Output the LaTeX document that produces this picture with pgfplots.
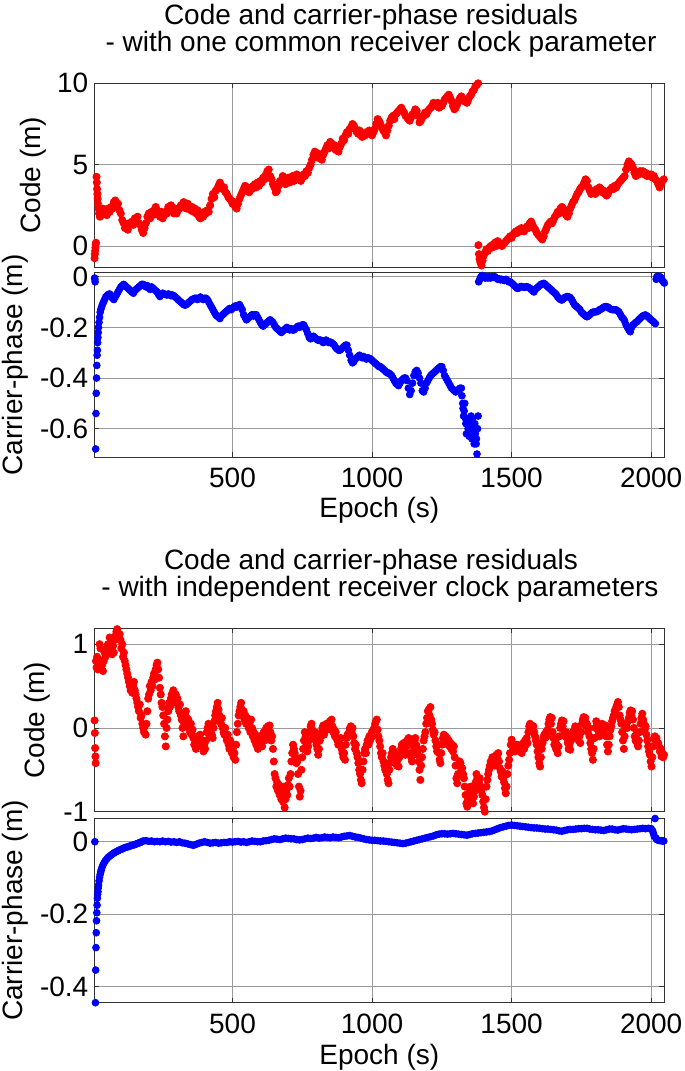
\documentclass[border=0pt]{standalone}
\usepackage{pgfplots}
\pgfplotsset{compat=1.18}
\usepackage{fontspec}
\setmainfont{Liberation Sans}
\pgfplotsset{
 myax/.style={scale only axis, width=285pt, anchor=north west, xmin=5, xmax=2047,
  xtick={500,1000,1500,2000}, grid=major,
  major grid style={black!40, line width=0.4pt},
  axis line style={black!80, line width=0.55pt},
  tick align=inside, major tick length=2.5pt, tick style={black!80, line width=0.4pt},
  clip mode=individual,
  yticklabel style={inner sep=0pt, xshift=-2.8pt},
  xticklabel style={inner sep=0pt, yshift=-5.3pt}},
 reddots/.style={only marks, mark=*, mark size=1.8pt, mark options={draw=none, fill=red}, color=red},
 bluedots/.style={only marks, mark=*, mark size=1.7pt, mark options={draw=none, fill=blue}, color=blue}
}
\tikzset{ttl/.style={anchor=base, inner sep=0pt, text height=9.5pt, text depth=2pt}}
\begin{document}
\fontsize{14pt}{16.5pt}\selectfont
\begin{tikzpicture}
\path[use as bounding box] (0,0) rectangle (342.5pt,-535.5pt);
% ---------- Top: code ----------
\begin{axis}[myax, at={(47.15pt,-41.65pt)}, height=92pt, ymin=-1.31, ymax=10,
 ytick={0,5,10}, yticklabels={0,5,10}, xticklabels={}]
\addplot[reddots] coordinates {
(6,-0.75) (7,-0.5) (8,-0.3) (9,-0.1) (10,0.1) (11,0.2)
(13,4.25) (14,3.9) (15,3.5) (16,3.2) (17,2.9) (18,2.6) (20,2.3) (22,2.0) (25,1.8) (28,2.1) (32,1.9) (36,2.3) (40,2.0) (45,2.2) (50,1.9) (55,2.3) (60,2.1) (65,2.4) (70,2.3) (75,2.7) (80,2.8) (85,2.5) (90,2.6) (95,2.2) (100,2.0) (105,1.6) (110,1.4) (115,1.1) (120,1.3) (125,1.0) (130,1.4) (135,1.3) (140,1.5) (145,1.3) (150,1.7) (155,1.6) (160,1.8) (165,1.4) (170,1.3) (175,1.0) (180,0.8) (185,1.1) (190,1.4) (195,1.8) (200,2.0) (205,1.7) (210,2.1) (215,1.9) (220,2.2) (225,2.4) (230,2.2) (235,2.0) (240,1.8) (245,2.1) (250,1.7) (255,1.9) (260,2.1) (265,2.0) (270,2.4) (275,2.3) (280,2.5) (285,2.2) (290,2.0) (295,2.3) (300,2.0) (305,2.2) (310,2.3) (315,2.5) (320,2.4) (325,2.7) (330,2.5) (335,2.3) (340,2.6) (345,2.3) (350,2.2) (355,2.4) (360,2.1) (365,2.3) (370,2.0) (375,2.2) (380,1.8) (385,1.7) (390,2.0) (395,1.8) (400,2.1) (405,2.0) (410,2.2) (415,2.1) (420,2.5) (425,2.9) (430,3.2) (435,3.0) (440,3.4) (445,3.5) (450,3.7) (455,3.9) (460,3.7) (465,3.5) (470,3.6) (475,3.3) (480,3.2) (485,3.0) (490,2.9) (495,2.8) (500,2.6) (505,2.7) (510,2.4) (515,2.3) (520,2.6) (525,2.9) (530,3.1) (535,3.3) (540,3.5) (545,3.7) (550,3.4) (555,3.6) (560,3.3) (565,3.6) (570,3.5) (575,3.7) (580,3.8) (585,3.6) (590,3.9) (595,3.7) (600,4.0) (605,3.9) (610,4.2) (615,4.1) (620,4.4) (625,4.6) (630,4.7) (635,4.3) (640,4.1) (645,3.8) (650,3.6) (655,3.3) (660,3.4) (665,3.7) (670,4.0) (675,3.9) (680,4.3) (685,4.1) (690,3.8) (695,4.0) (700,4.2) (705,3.9) (710,4.1) (715,4.3) (720,4.0) (725,4.2) (730,4.4) (735,4.1) (740,4.3) (745,4.0) (750,4.2) (755,4.4) (760,4.3) (765,4.6) (770,4.5) (775,4.8) (780,5.0) (785,5.3) (790,5.6) (795,5.8) (800,5.6) (805,5.7) (810,5.4) (815,5.6) (820,5.3) (825,5.6) (830,5.8) (835,6.0) (840,6.2) (845,6.0) (850,6.4) (855,6.3) (860,6.1) (865,6.2) (870,5.9) (875,6.0) (880,5.8) (885,6.1) (890,6.3) (895,6.6) (900,6.5) (905,6.8) (910,7.0) (915,6.9) (920,7.2) (925,7.3) (930,7.5) (935,7.4) (940,7.2) (945,7.0) (950,6.9) (955,7.1) (960,6.8) (965,6.7) (970,6.9) (975,6.8) (980,7.0) (985,6.9) (990,7.1) (995,6.9) (1000,6.8) (1005,7.0) (1010,7.2) (1015,7.5) (1020,7.8) (1025,7.7) (1030,7.5) (1035,7.3) (1040,7.1) (1045,7.0) (1050,6.8) (1055,7.1) (1060,7.4) (1065,7.7) (1070,7.9) (1075,8.0) (1080,7.8) (1085,8.1) (1090,8.2) (1095,8.3) (1100,8.4) (1105,8.5) (1110,8.3) (1115,8.2) (1120,8.0) (1125,7.9) (1130,7.8) (1135,7.7) (1140,7.9) (1145,8.1) (1150,8.2) (1155,8.4) (1160,8.3) (1165,8.0) (1170,7.6) (1175,7.7) (1180,7.9) (1185,8.0) (1190,8.2) (1195,8.1) (1200,8.3) (1205,8.4) (1210,8.5) (1215,8.6) (1220,8.8) (1225,8.7) (1230,8.6) (1235,8.8) (1240,8.5) (1245,8.7) (1250,8.6) (1255,8.8) (1260,9.0) (1265,9.1) (1270,9.2) (1275,9.3) (1280,9.1) (1285,8.9) (1290,8.6) (1295,8.4) (1300,8.5) (1305,8.7) (1310,8.9) (1315,9.1) (1320,9.2) (1325,9.0) (1330,8.9) (1335,9.0) (1340,8.8) (1345,9.0) (1350,9.2) (1355,9.3) (1360,9.5) (1365,9.6) (1370,9.8) (1375,9.9) (1380,10.0)
(1381,0.05) (1383,-0.5) (1385,-0.8) (1388,-1.0) (1392,-1.2) (1396,-0.9) (1400,-0.6) (1405,-0.4) (1410,-0.2) (1415,-0.3) (1420,-0.1) (1425,0.0) (1430,-0.1) (1435,0.1) (1440,0.2) (1445,0.0) (1450,0.3) (1455,0.2) (1460,0.1) (1465,0.0) (1470,0.1) (1475,0.2) (1480,0.3) (1485,0.4) (1490,0.5) (1495,0.6) (1500,0.5) (1505,0.7) (1510,0.8) (1515,0.9) (1520,0.8) (1525,1.0) (1530,0.9) (1535,1.1) (1540,1.0) (1545,0.9) (1550,1.1) (1555,1.2) (1560,1.1) (1565,1.4) (1570,1.5) (1575,1.3) (1580,1.1) (1585,1.0) (1590,0.8) (1595,0.7) (1600,0.6) (1605,0.5) (1610,0.4) (1615,0.6) (1620,0.9) (1625,1.1) (1630,1.3) (1635,1.4) (1640,1.5) (1645,1.4) (1650,1.6) (1655,1.8) (1660,1.9) (1665,2.1) (1670,2.0) (1675,2.3) (1680,2.4) (1685,2.3) (1690,2.1) (1695,1.9) (1700,1.8) (1705,2.0) (1710,2.3) (1715,2.5) (1720,2.7) (1725,2.8) (1730,3.0) (1735,3.2) (1740,3.3) (1745,3.5) (1750,3.6) (1755,3.7) (1760,3.9) (1765,4.1) (1770,4.0) (1775,3.6) (1780,3.4) (1785,3.2) (1790,3.3) (1795,3.4) (1800,3.2) (1805,3.5) (1810,3.4) (1815,3.6) (1820,3.5) (1825,3.3) (1830,3.4) (1835,3.2) (1840,3.1) (1845,3.2) (1850,3.4) (1855,3.5) (1860,3.6) (1865,3.5) (1870,3.7) (1875,3.6) (1880,3.8) (1885,3.9) (1890,4.0) (1895,4.1) (1900,4.2) (1905,4.3) (1910,4.7) (1915,5.0) (1920,5.2) (1925,5.1) (1930,5.0) (1935,4.8) (1940,4.5) (1945,4.3) (1950,4.5) (1955,4.4) (1960,4.6) (1965,4.5) (1970,4.6) (1975,4.4) (1980,4.5) (1985,4.3) (1990,4.4) (1995,4.3) (2000,4.4) (2005,4.2) (2010,4.3) (2015,4.1) (2020,4.0) (2025,3.8) (2030,3.6) (2035,3.8) (2040,4.0) (2045,4.1)
};
\end{axis}
% ---------- Top: carrier ----------
\begin{axis}[myax, at={(47.15pt,-136.35pt)}, height=92.3pt, ymin=-0.713, ymax=0.016,
 ytick={-0.6,-0.4,-0.2,0}, yticklabels={-0.6,-0.4,-0.2,0}, xticklabels={500,1000,1500,2000}]
\addplot[bluedots] coordinates {
(6,-0.005) (7,-0.01) (8,-0.02) (10,-0.68) (11,-0.54) (12,-0.46) (13,-0.40) (14,-0.35) (15,-0.31) (16,-0.29) (17,-0.26) (18,-0.24) (19,-0.22) (20,-0.20) (22,-0.18) (24,-0.16) (26,-0.14) (28,-0.13) (31,-0.12) (34,-0.11) (38,-0.10) (42,-0.09) (46,-0.08) (50,-0.075) (55,-0.07) (60,-0.068) (65,-0.075) (70,-0.085) (75,-0.09) (80,-0.08) (85,-0.07) (90,-0.06) (95,-0.05) (100,-0.04) (105,-0.035) (110,-0.03) (115,-0.035) (120,-0.04) (125,-0.045) (130,-0.05) (135,-0.055) (140,-0.06) (145,-0.065) (150,-0.055) (155,-0.05) (160,-0.045) (165,-0.04) (170,-0.035) (175,-0.03) (180,-0.03) (185,-0.035) (190,-0.04) (195,-0.035) (200,-0.045) (205,-0.05) (210,-0.04) (215,-0.045) (220,-0.05) (225,-0.055) (230,-0.06) (235,-0.07) (240,-0.078) (245,-0.07) (250,-0.065) (255,-0.068) (260,-0.07) (265,-0.072) (270,-0.068) (275,-0.07) (280,-0.075) (285,-0.072) (290,-0.075) (295,-0.08) (300,-0.085) (305,-0.09) (310,-0.095) (315,-0.1) (320,-0.105) (325,-0.11) (330,-0.112) (335,-0.11) (340,-0.105) (345,-0.1) (350,-0.095) (355,-0.09) (360,-0.088) (365,-0.085) (370,-0.085) (375,-0.09) (380,-0.085) (385,-0.08) (390,-0.085) (395,-0.09) (400,-0.085) (405,-0.085) (410,-0.09) (415,-0.1) (420,-0.11) (425,-0.12) (430,-0.13) (435,-0.14) (440,-0.15) (445,-0.155) (450,-0.16) (455,-0.165) (460,-0.155) (465,-0.15) (470,-0.145) (475,-0.14) (480,-0.135) (485,-0.13) (490,-0.125) (495,-0.13) (500,-0.125) (505,-0.12) (510,-0.115) (515,-0.12) (520,-0.115) (525,-0.11) (530,-0.12) (535,-0.13) (540,-0.15) (545,-0.16) (550,-0.17) (555,-0.165) (560,-0.16) (565,-0.155) (570,-0.15) (575,-0.155) (580,-0.15) (585,-0.15) (590,-0.16) (595,-0.17) (600,-0.18) (605,-0.19) (610,-0.195) (615,-0.19) (620,-0.185) (625,-0.18) (630,-0.175) (635,-0.17) (640,-0.175) (645,-0.18) (650,-0.19) (655,-0.2) (660,-0.205) (665,-0.21) (670,-0.215) (675,-0.22) (680,-0.215) (685,-0.21) (690,-0.205) (695,-0.2) (700,-0.205) (705,-0.21) (710,-0.205) (715,-0.21) (720,-0.21) (725,-0.205) (730,-0.2) (735,-0.195) (740,-0.2) (745,-0.195) (750,-0.19) (755,-0.19) (760,-0.2) (765,-0.21) (770,-0.225) (775,-0.24) (780,-0.245) (785,-0.24) (790,-0.235) (795,-0.24) (800,-0.245) (805,-0.25) (810,-0.25) (815,-0.25) (820,-0.255) (825,-0.26) (830,-0.255) (835,-0.25) (840,-0.255) (845,-0.26) (850,-0.258) (855,-0.26) (860,-0.265) (865,-0.27) (870,-0.28) (875,-0.285) (880,-0.29) (885,-0.29) (890,-0.285) (895,-0.28) (900,-0.275) (905,-0.27) (910,-0.27) (915,-0.29) (920,-0.31) (925,-0.33) (930,-0.34) (935,-0.335) (940,-0.325) (945,-0.32) (950,-0.315) (955,-0.31) (960,-0.315) (965,-0.32) (970,-0.315) (975,-0.32) (980,-0.325) (985,-0.32) (990,-0.322) (995,-0.325) (1000,-0.33) (1005,-0.335) (1010,-0.34) (1015,-0.345) (1020,-0.35) (1025,-0.355) (1030,-0.355) (1035,-0.36) (1040,-0.365) (1045,-0.37) (1050,-0.375) (1055,-0.38) (1060,-0.38) (1065,-0.385) (1070,-0.39) (1075,-0.4) (1080,-0.41) (1085,-0.42) (1090,-0.425) (1095,-0.43) (1100,-0.42) (1105,-0.41) (1110,-0.405) (1115,-0.4) (1120,-0.4) (1125,-0.41) (1130,-0.44) (1135,-0.465) (1140,-0.45) (1145,-0.42) (1150,-0.39) (1155,-0.375) (1160,-0.37) (1165,-0.38) (1170,-0.4) (1175,-0.42) (1180,-0.45) (1185,-0.455) (1190,-0.44) (1195,-0.42) (1200,-0.41) (1205,-0.4) (1210,-0.39) (1215,-0.385) (1220,-0.38) (1225,-0.375) (1230,-0.37) (1235,-0.365) (1240,-0.36) (1245,-0.355) (1250,-0.355) (1255,-0.37) (1260,-0.39) (1265,-0.4) (1270,-0.41) (1275,-0.42) (1280,-0.43) (1285,-0.44) (1290,-0.445) (1295,-0.45) (1300,-0.455) (1305,-0.45) (1310,-0.445) (1315,-0.44) (1320,-0.44) (1322,-0.47) (1325,-0.5) (1326,-0.52) (1328,-0.55) (1330,-0.53) (1332,-0.5) (1335,-0.56) (1336,-0.58) (1338,-0.62) (1340,-0.58) (1342,-0.56) (1344,-0.6) (1345,-0.59) (1348,-0.63) (1350,-0.57) (1352,-0.6) (1355,-0.55) (1356,-0.58) (1358,-0.64) (1360,-0.56) (1362,-0.62) (1365,-0.6) (1366,-0.66) (1368,-0.58) (1370,-0.62) (1372,-0.6) (1373,-0.66) (1374,-0.64) (1376,-0.7) (1378,-0.6) (1380,-0.55)
(1382,-0.02) (1386,-0.01) (1390,0.0) (1395,0.005) (1400,0.0) (1405,-0.005) (1410,0.0) (1415,-0.005) (1420,0.0) (1425,-0.005) (1430,0.0) (1435,-0.002) (1440,0.0) (1445,-0.005) (1450,-0.01) (1455,-0.008) (1460,-0.012) (1465,-0.01) (1470,-0.013) (1475,-0.015) (1480,-0.01) (1485,-0.015) (1490,-0.02) (1495,-0.02) (1500,-0.025) (1505,-0.03) (1510,-0.035) (1515,-0.04) (1520,-0.046) (1525,-0.045) (1530,-0.04) (1535,-0.038) (1540,-0.04) (1545,-0.042) (1550,-0.04) (1555,-0.039) (1560,-0.042) (1565,-0.045) (1570,-0.05) (1575,-0.055) (1580,-0.06) (1585,-0.05) (1590,-0.045) (1595,-0.04) (1600,-0.035) (1605,-0.03) (1610,-0.028) (1615,-0.026) (1620,-0.03) (1625,-0.035) (1630,-0.04) (1635,-0.045) (1640,-0.05) (1645,-0.055) (1650,-0.06) (1655,-0.065) (1660,-0.07) (1665,-0.08) (1670,-0.085) (1675,-0.09) (1680,-0.092) (1685,-0.088) (1690,-0.082) (1695,-0.08) (1700,-0.078) (1705,-0.08) (1710,-0.082) (1715,-0.09) (1720,-0.1) (1725,-0.11) (1730,-0.115) (1735,-0.12) (1740,-0.125) (1745,-0.13) (1750,-0.14) (1755,-0.145) (1760,-0.15) (1765,-0.155) (1770,-0.158) (1775,-0.155) (1780,-0.15) (1785,-0.145) (1790,-0.14) (1795,-0.14) (1800,-0.138) (1805,-0.138) (1810,-0.135) (1815,-0.13) (1820,-0.128) (1825,-0.125) (1830,-0.12) (1835,-0.118) (1840,-0.118) (1845,-0.12) (1850,-0.125) (1855,-0.128) (1860,-0.13) (1865,-0.13) (1870,-0.13) (1875,-0.131) (1880,-0.135) (1885,-0.14) (1890,-0.15) (1895,-0.16) (1900,-0.165) (1905,-0.175) (1910,-0.19) (1915,-0.2) (1920,-0.21) (1925,-0.217) (1930,-0.2) (1935,-0.19) (1940,-0.185) (1945,-0.18) (1950,-0.177) (1955,-0.17) (1960,-0.165) (1965,-0.16) (1970,-0.155) (1975,-0.152) (1980,-0.151) (1985,-0.155) (1990,-0.16) (1995,-0.165) (2000,-0.17) (2005,-0.175) (2010,-0.18) (2015,-0.185)
(2018,-0.01) (2020,0.0) (2024,0.002) (2028,0.0) (2032,0.0) (2036,-0.005) (2040,-0.015) (2044,-0.02) (2047,-0.025)
};
\end{axis}
% ---------- Bottom: code ----------
\begin{axis}[myax, at={(47.15pt,-314.15pt)}, height=91.7pt, ymin=-1, ymax=1.19,
 ytick={-1,0,1}, yticklabels={-1,0,1}, xticklabels={}]
\addplot[reddots] coordinates {
(6,0.09) (7,-0.06) (8,-0.24) (9,-0.34) (10,-0.42)
(11,0.8) (13,0.72) (15,0.85) (18,0.7) (21,0.78) (24,1.0) (27,0.95) (30,0.8) (33,0.75) (36,0.68) (39,0.8) (42,0.9) (45,0.85) (48,0.95) (51,0.9) (54,1.0) (57,0.92) (60,1.08) (63,1.0) (66,0.95) (69,0.88) (72,0.98) (75,0.9) (78,1.05) (81,1.1) (84,1.15) (87,1.18) (90,1.1) (93,1.2) (96,1.12) (99,1.05) (102,0.95) (105,1.0) (108,0.85) (111,0.9) (114,0.8) (117,0.75) (120,0.7) (123,0.65) (126,0.6) (129,0.55) (132,0.5) (135,0.45) (138,0.5) (141,0.42) (144,0.5) (147,0.55) (150,0.45) (153,0.4) (156,0.35) (159,0.3) (162,0.25) (165,0.2) (168,0.28) (171,0.12) (174,0.15) (177,0.05) (180,0.0) (183,-0.05) (186,0.02) (189,-0.08) (192,0.05) (195,0.2) (198,0.35) (201,0.4) (204,0.5) (207,0.45) (210,0.55) (213,0.5) (216,0.6) (219,0.65) (222,0.58) (225,0.7) (228,0.75) (231,0.78) (234,0.7) (237,0.6) (240,0.48) (243,0.4) (246,0.3) (249,0.25) (252,0.15) (255,0.05) (258,-0.1) (261,-0.22) (264,0.0) (267,0.1) (270,0.2) (273,0.3) (276,0.25) (279,0.35) (282,0.4) (285,0.3) (288,0.45) (291,0.38) (294,0.32) (297,0.4) (300,0.3) (303,0.35) (306,0.25) (309,0.2) (312,0.28) (315,0.15) (318,0.1) (321,0.0) (324,-0.1) (327,0.05) (330,0.15) (333,0.2) (336,0.12) (339,0.05) (342,0.1) (345,0.0) (348,-0.05) (351,0.05) (354,-0.08) (357,-0.02) (360,-0.12) (363,-0.2) (366,-0.15) (369,-0.25) (372,-0.18) (375,-0.1) (378,-0.2) (381,-0.12) (384,-0.08) (387,-0.18) (390,-0.15) (393,-0.22) (396,-0.28) (399,-0.2) (402,-0.25) (405,-0.15) (408,-0.05) (411,0.0) (414,0.05) (417,-0.05) (420,-0.1) (423,0.0) (426,-0.08) (429,-0.12) (432,0.0) (435,0.08) (438,0.15) (441,0.2) (444,0.25) (447,0.3) (450,0.22) (453,0.15) (456,0.1) (459,0.05) (462,0.12) (465,0.0) (468,-0.05) (471,-0.08) (474,0.0) (477,-0.1) (480,-0.15) (483,-0.08) (486,-0.2) (489,-0.25) (492,-0.15) (495,-0.22) (498,-0.3) (501,-0.25) (504,-0.35) (507,-0.3) (510,-0.38) (513,-0.2) (516,-0.05) (519,0.05) (522,0.15) (525,0.2) (528,0.25) (531,0.3) (534,0.22) (537,0.15) (540,0.2) (543,0.1) (546,0.15) (549,0.05) (552,0.12) (555,0.08) (558,0.0) (561,0.05) (564,-0.05) (567,0.1) (570,0.0) (573,-0.1) (576,-0.05) (579,-0.15) (582,-0.08) (585,-0.2) (588,-0.12) (591,-0.25) (594,-0.18) (597,-0.1) (600,-0.2) (603,-0.15) (606,-0.22) (609,-0.12) (612,-0.05) (615,-0.15) (618,-0.08) (621,0.0) (624,-0.1) (627,0.02) (630,-0.05) (633,0.03) (636,-0.05) (639,-0.15) (642,-0.1) (645,-0.25) (648,-0.4) (651,-0.55) (654,-0.6) (657,-0.7) (660,-0.65) (663,-0.75) (666,-0.68) (669,-0.8) (672,-0.72) (675,-0.85) (678,-0.78) (681,-0.88) (684,-0.7) (687,-0.95) (690,-0.85) (693,-0.75) (696,-0.8) (699,-0.68) (702,-0.6) (705,-0.7) (708,-0.55) (711,-0.4) (714,-0.3) (717,-0.2) (720,-0.25) (723,-0.3) (726,-0.35) (729,-0.42) (732,-0.4) (735,-0.55) (738,-0.7) (741,-0.82) (744,-0.75) (747,-0.5) (750,-0.35) (753,-0.25) (756,-0.15) (759,-0.05) (762,-0.1) (765,-0.2) (768,-0.28) (771,-0.22) (774,-0.15) (777,-0.05) (780,0.02) (783,0.05) (786,-0.02) (789,-0.08) (792,-0.12) (795,-0.05) (798,-0.15) (801,-0.2) (804,-0.25) (807,-0.32) (810,-0.25) (813,-0.15) (816,-0.1) (819,-0.05) (822,0.0) (825,0.03) (828,-0.08) (831,-0.03) (834,0.0) (837,0.05) (840,-0.02) (843,0.04) (846,0.0) (849,0.08) (852,0.05) (855,0.1) (858,0.02) (861,-0.05) (864,-0.02) (867,-0.1) (870,-0.05) (873,-0.12) (876,-0.15) (879,-0.2) (882,-0.15) (885,-0.2) (888,-0.12) (891,-0.25) (894,-0.3) (897,-0.35) (900,-0.3) (903,-0.38) (906,-0.2) (909,-0.12) (912,-0.08) (915,-0.1) (918,-0.05) (921,0.0) (924,0.02) (927,-0.05) (930,0.0) (933,-0.1) (936,-0.18) (939,-0.25) (942,-0.2) (945,-0.3) (948,-0.35) (951,-0.42) (954,-0.5) (957,-0.55) (960,-0.62) (963,-0.66) (966,-0.5) (969,-0.4) (972,-0.3) (975,-0.25) (978,-0.3) (981,-0.2) (984,-0.15) (987,-0.2) (990,-0.1) (993,-0.15) (996,-0.08) (999,-0.05) (1002,-0.1) (1005,-0.02) (1008,0.0) (1011,0.05) (1014,0.08) (1017,0.1) (1020,-0.02) (1023,-0.1) (1026,-0.15) (1029,-0.22) (1032,-0.3) (1035,-0.35) (1038,-0.3) (1041,-0.4) (1044,-0.45) (1047,-0.5) (1050,-0.42) (1053,-0.55) (1056,-0.62) (1059,-0.66) (1062,-0.5) (1065,-0.42) (1068,-0.35) (1071,-0.3) (1074,-0.25) (1077,-0.28) (1080,-0.35) (1083,-0.4) (1086,-0.32) (1089,-0.45) (1092,-0.38) (1095,-0.46) (1098,-0.35) (1101,-0.3) (1104,-0.25) (1107,-0.2) (1110,-0.28) (1113,-0.18) (1116,-0.25) (1119,-0.32) (1122,-0.22) (1125,-0.15) (1128,-0.2) (1131,-0.12) (1134,-0.2) (1137,-0.3) (1140,-0.35) (1143,-0.4) (1146,-0.3) (1149,-0.22) (1152,-0.15) (1155,-0.12) (1158,-0.2) (1161,-0.25) (1164,-0.32) (1167,-0.4) (1170,-0.5) (1173,-0.62) (1176,-0.45) (1179,-0.35) (1182,-0.25) (1185,-0.15) (1188,-0.1) (1191,-0.05) (1194,0.05) (1197,0.12) (1200,0.2) (1203,0.22) (1206,0.15) (1209,0.25) (1212,0.1) (1215,0.05) (1218,-0.02) (1221,-0.08) (1224,-0.05) (1227,-0.15) (1230,-0.22) (1233,-0.28) (1236,-0.2) (1239,-0.3) (1242,-0.38) (1245,-0.42) (1248,-0.3) (1251,-0.2) (1254,-0.12) (1257,-0.08) (1260,-0.15) (1263,-0.1) (1266,-0.18) (1269,-0.12) (1272,-0.2) (1275,-0.15) (1278,-0.22) (1281,-0.18) (1284,-0.25) (1287,-0.2) (1290,-0.28) (1293,-0.22) (1296,-0.35) (1299,-0.45) (1302,-0.6) (1305,-0.66) (1308,-0.55) (1311,-0.45) (1314,-0.4) (1317,-0.42) (1320,-0.5) (1323,-0.48) (1326,-0.55) (1329,-0.6) (1332,-0.7) (1335,-0.8) (1338,-0.9) (1341,-0.94) (1344,-0.85) (1347,-0.78) (1350,-0.72) (1353,-0.7) (1356,-0.8) (1359,-0.85) (1362,-0.9) (1365,-0.82) (1368,-0.75) (1371,-0.65) (1374,-0.55) (1377,-0.6) (1380,-0.7) (1383,-0.65) (1386,-0.6) (1389,-0.7) (1392,-0.75) (1395,-0.8) (1398,-0.88) (1401,-0.95) (1404,-1.0) (1407,-0.85) (1410,-0.7) (1413,-0.62) (1416,-0.55) (1419,-0.5) (1422,-0.45) (1425,-0.4) (1428,-0.42) (1431,-0.35) (1434,-0.4) (1437,-0.38) (1440,-0.45) (1443,-0.38) (1446,-0.32) (1449,-0.36) (1452,-0.3) (1455,-0.4) (1458,-0.48) (1461,-0.52) (1464,-0.58) (1467,-0.52) (1470,-0.6) (1473,-0.65) (1476,-0.72) (1479,-0.78) (1482,-0.7) (1485,-0.55) (1488,-0.45) (1491,-0.38) (1494,-0.3) (1497,-0.2) (1500,-0.14) (1503,-0.2) (1506,-0.25) (1509,-0.2) (1512,-0.28) (1515,-0.22) (1518,-0.26) (1521,-0.2) (1524,-0.25) (1527,-0.22) (1530,-0.28) (1533,-0.25) (1536,-0.3) (1539,-0.22) (1542,-0.18) (1545,-0.25) (1548,-0.15) (1551,-0.2) (1554,-0.12) (1557,-0.18) (1560,-0.05) (1563,0.02) (1566,0.05) (1569,0.0) (1572,0.03) (1575,-0.05) (1578,0.02) (1581,-0.05) (1584,-0.1) (1587,-0.15) (1590,-0.2) (1593,-0.28) (1596,-0.35) (1599,-0.42) (1602,-0.46) (1605,-0.35) (1608,-0.25) (1611,-0.18) (1614,-0.12) (1617,-0.08) (1620,-0.12) (1623,-0.05) (1626,-0.1) (1629,-0.02) (1632,0.05) (1635,0.1) (1638,0.13) (1641,0.05) (1644,0.12) (1647,-0.05) (1650,-0.12) (1653,-0.2) (1656,-0.15) (1659,-0.25) (1662,-0.2) (1665,-0.3) (1668,-0.22) (1671,-0.1) (1674,0.0) (1677,0.05) (1680,0.09) (1683,0.02) (1686,0.08) (1689,-0.05) (1692,-0.1) (1695,-0.05) (1698,-0.12) (1701,-0.18) (1704,-0.25) (1707,-0.2) (1710,-0.26) (1713,-0.15) (1716,-0.1) (1719,-0.05) (1722,-0.1) (1725,-0.02) (1728,0.02) (1731,-0.05) (1734,0.0) (1737,-0.08) (1740,-0.15) (1743,-0.1) (1746,-0.18) (1749,-0.05) (1752,0.05) (1755,0.1) (1758,0.13) (1761,0.08) (1764,0.12) (1767,0.02) (1770,0.05) (1773,-0.05) (1776,0.0) (1779,-0.1) (1782,-0.18) (1785,-0.25) (1788,-0.3) (1791,-0.38) (1794,-0.25) (1797,-0.12) (1800,0.0) (1803,0.08) (1806,0.05) (1809,-0.02) (1812,-0.08) (1815,-0.1) (1818,-0.05) (1821,0.0) (1824,0.05) (1827,0.02) (1830,-0.05) (1833,0.0) (1836,0.03) (1839,-0.1) (1842,-0.2) (1845,-0.28) (1848,-0.2) (1851,-0.1) (1854,-0.02) (1857,0.02) (1860,0.08) (1863,0.12) (1866,0.15) (1869,0.2) (1872,0.22) (1875,0.25) (1878,0.28) (1881,0.31) (1884,0.25) (1887,0.15) (1890,0.1) (1893,0.05) (1896,-0.05) (1899,-0.15) (1902,-0.25) (1905,-0.1) (1908,0.0) (1911,0.05) (1914,0.0) (1917,0.08) (1920,0.12) (1923,0.18) (1926,0.21) (1929,0.15) (1932,0.2) (1935,0.1) (1938,0.0) (1941,-0.1) (1944,-0.15) (1947,-0.08) (1950,-0.18) (1953,-0.22) (1956,-0.15) (1959,-0.05) (1962,0.05) (1965,0.12) (1968,0.17) (1971,0.1) (1974,0.05) (1977,-0.02) (1980,0.02) (1983,-0.08) (1986,-0.15) (1989,-0.22) (1992,-0.28) (1995,-0.32) (1998,-0.4) (2001,-0.46) (2004,-0.35) (2007,-0.22) (2010,-0.12) (2013,-0.1) (2016,-0.15) (2019,-0.12) (2022,-0.2) (2025,-0.18) (2028,-0.22) (2031,-0.28) (2034,-0.25) (2037,-0.34) (2040,-0.3) (2043,-0.35) (2046,-0.32)
};
\end{axis}
% ---------- Bottom: carrier ----------
\begin{axis}[myax, at={(47.15pt,-409.15pt)}, height=92.2pt, ymin=-0.444, ymax=0.0646,
 ytick={-0.4,-0.2,0}, yticklabels={-0.4,-0.2,0}, xticklabels={500,1000,1500,2000}]
\addplot[bluedots] coordinates {
(7,0.0) (9,-0.444) (10,-0.354) (11,-0.292) (12,-0.251) (13,-0.218) (14,-0.196) (15,-0.175) (16,-0.156) (17,-0.145) (18,-0.138) (19,-0.128) (20,-0.12) (22,-0.108) (24,-0.098) (26,-0.09) (28,-0.083) (30,-0.077) (33,-0.07) (36,-0.064) (40,-0.058) (45,-0.052) (50,-0.047) (55,-0.043) (60,-0.04) (65,-0.037) (70,-0.034) (75,-0.031) (80,-0.029) (85,-0.027) (90,-0.025) (95,-0.023) (100,-0.021) (105,-0.02) (110,-0.018) (115,-0.016) (120,-0.015) (125,-0.014) (130,-0.013) (135,-0.011) (140,-0.01) (145,-0.009) (150,-0.008) (155,-0.006) (160,-0.005) (165,-0.003) (170,-0.002) (175,0.0) (180,0.002) (190,0.003) (200,0.001) (210,0.002) (220,0.0) (230,0.001) (240,0.0) (250,0.002) (260,0.0) (270,0.001) (280,-0.001) (290,0.0) (300,-0.002) (310,0.0) (320,-0.003) (330,-0.004) (340,-0.006) (350,-0.008) (360,-0.01) (370,-0.007) (380,-0.004) (390,-0.002) (400,0.0) (410,-0.002) (420,-0.004) (430,-0.003) (440,-0.002) (450,-0.004) (460,-0.003) (470,-0.002) (480,-0.002) (490,0.0) (500,-0.001) (510,0.0) (520,0.001) (530,-0.001) (540,0.0) (550,-0.002) (560,0.0) (570,0.002) (580,0.001) (590,0.0) (600,0.0) (610,0.002) (620,0.003) (630,0.004) (640,0.006) (650,0.008) (660,0.007) (670,0.006) (680,0.008) (690,0.01) (700,0.009) (710,0.008) (720,0.008) (730,0.006) (740,0.005) (750,0.006) (760,0.008) (770,0.01) (780,0.009) (790,0.01) (800,0.012) (810,0.01) (820,0.011) (830,0.013) (840,0.012) (850,0.011) (860,0.013) (870,0.012) (880,0.011) (890,0.013) (900,0.015) (910,0.016) (920,0.017) (930,0.015) (940,0.013) (950,0.012) (960,0.01) (970,0.008) (980,0.006) (990,0.005) (1000,0.004) (1010,0.004) (1020,0.003) (1030,0.002) (1040,0.002) (1050,0.001) (1060,0.0) (1070,-0.001) (1080,-0.002) (1090,-0.003) (1100,-0.004) (1110,-0.005) (1120,-0.004) (1130,-0.002) (1140,0.0) (1150,0.002) (1160,0.004) (1170,0.006) (1180,0.008) (1190,0.01) (1200,0.012) (1210,0.014) (1220,0.016) (1230,0.019) (1240,0.021) (1250,0.022) (1260,0.022) (1270,0.021) (1280,0.022) (1290,0.023) (1300,0.022) (1310,0.021) (1320,0.02) (1330,0.019) (1340,0.018) (1350,0.02) (1360,0.022) (1370,0.023) (1380,0.024) (1390,0.025) (1400,0.026) (1410,0.027) (1420,0.028) (1430,0.03) (1440,0.033) (1450,0.036) (1460,0.039) (1470,0.041) (1480,0.043) (1490,0.045) (1500,0.046) (1510,0.045) (1520,0.044) (1530,0.043) (1540,0.042) (1550,0.041) (1560,0.04) (1570,0.039) (1580,0.038) (1590,0.038) (1600,0.037) (1610,0.036) (1620,0.035) (1630,0.035) (1640,0.034) (1650,0.033) (1660,0.032) (1670,0.03) (1680,0.029) (1690,0.031) (1700,0.033) (1710,0.034) (1720,0.034) (1730,0.035) (1740,0.036) (1750,0.036) (1760,0.037) (1770,0.037) (1780,0.035) (1790,0.034) (1800,0.033) (1810,0.033) (1820,0.032) (1830,0.031) (1840,0.033) (1850,0.035) (1860,0.035) (1870,0.033) (1880,0.032) (1890,0.034) (1900,0.036) (1910,0.035) (1920,0.034) (1930,0.033) (1940,0.034) (1950,0.035) (1960,0.036) (1970,0.037) (1980,0.036) (1990,0.037) (2000,0.036) (2005,0.03) (2008,0.023) (2011,0.015) (2014,0.064) (2017,0.01) (2020,0.006) (2025,0.004) (2030,0.003) (2035,0.003) (2040,0.002) (2045,0.002)
};
\end{axis}
% ---------- Labels and titles ----------
\node[rotate=90] at (16.5pt,-87.65pt) {Code (m)};
\node[rotate=90] at (7.5pt,-182.5pt) {Carrier-phase (m)};
\node[rotate=90] at (18.7pt,-360pt) {Code (m)};
\node[rotate=90] at (7.5pt,-455.25pt) {Carrier-phase (m)};
\node at (189.65pt,-255pt) {Epoch (s)};
\node at (189.65pt,-528.5pt) {Epoch (s)};
\node[ttl] at (185.5pt,-12.2pt) {Code and carrier-phase residuals};
\node[ttl] at (190.5pt,-25.6pt) {- with one common receiver clock parameter};
\node[ttl] at (185.5pt,-284.8pt) {Code and carrier-phase residuals};
\node[ttl] at (190pt,-298.2pt) {- with independent receiver clock parameters};
\end{tikzpicture}
\end{document}
